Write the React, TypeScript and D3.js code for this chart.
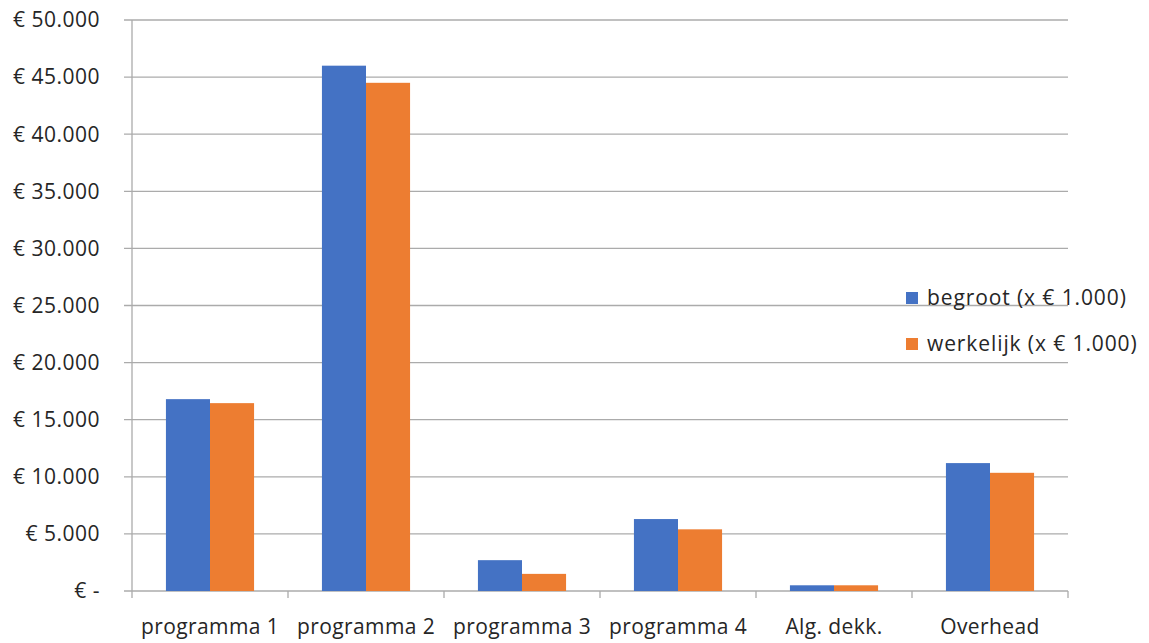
import React, { useEffect, useRef } from 'react';
import * as d3 from 'd3';

const categories = ['programma 1', 'programma 2', 'programma 3', 'programma 4', 'Alg. dekk.', 'Overhead'];
const begroot = [16800, 46000, 2700, 6300, 500, 11200];
const werkelijk = [16450, 44500, 1500, 5400, 500, 10350];
const seriesNames = ['begroot (x € 1.000)', 'werkelijk (x € 1.000)'];
const seriesColors = ['#4472C4', '#ED7D31'];
const yTicks = [0, 5000, 10000, 15000, 20000, 25000, 30000, 35000, 40000, 45000, 50000];

function euro(v: number) {
	if (v === 0) return '€ -';
	return '€ ' + d3.format(',')(v).replace(/,/g, '.');
}

const App = () => {
	const ref = useRef<SVGSVGElement>(null);
	useEffect(() => {
		const svg = d3.select(ref.current);
		svg.selectAll('*').remove();
		const left = 132, right = 1068, top = 20, bottom = 591;
		const font = '"Open Sans", "Noto Sans", sans-serif';

		const x = d3.scaleBand().domain(categories).range([left, right]).paddingInner(0).paddingOuter(0);
		const y = d3.scaleLinear().domain([0, 50000]).range([bottom, top]);
		const inner = d3.scaleBand().domain(['0', '1']).range([0, x.bandwidth()]).paddingOuter(0.77).paddingInner(0);

		// gridlines
		svg.append('g').selectAll('line').data(yTicks).enter().append('line')
			.attr('x1', left - 8).attr('x2', right)
			.attr('y1', d => y(d)).attr('y2', d => y(d))
			.attr('stroke', '#ababab').attr('stroke-width', 1.3);

		svg.append('line').attr('x1', left).attr('x2', left).attr('y1', top).attr('y2', bottom)
			.attr('stroke', '#ababab').attr('stroke-width', 1.3);

		// category ticks
		const bounds = categories.map(c => x(c)!).concat([right]);
		svg.append('g').selectAll('line').data(bounds).enter().append('line')
			.attr('x1', d => d).attr('x2', d => d).attr('y1', bottom).attr('y2', bottom + 7)
			.attr('stroke', '#ababab').attr('stroke-width', 1.3);

		// bars
		const data = [begroot, werkelijk];
		data.forEach((vals, si) => {
			svg.append('g').selectAll('rect').data(vals).enter().append('rect')
				.attr('x', (d, i) => x(categories[i])! + inner(String(si))!)
				.attr('y', d => y(d))
				.attr('width', inner.bandwidth())
				.attr('height', d => bottom - y(d))
				.attr('fill', seriesColors[si]);
		});

		// y labels
		svg.append('g').selectAll('text').data(yTicks).enter().append('text')
			.text(d => euro(d))
			.attr('x', 100).attr('y', d => y(d)).attr('dy', '0.35em')
			.attr('text-anchor', 'end').attr('font-family', font).attr('font-size', 21)
			.attr('letter-spacing', 0.5).attr('fill', '#262626');

		// x labels
		svg.append('g').selectAll('text').data(categories).enter().append('text')
			.text(d => d)
			.attr('x', d => x(d)! + x.bandwidth() / 2).attr('y', 627).attr('dy', '0.35em')
			.attr('text-anchor', 'middle').attr('font-family', font).attr('font-size', 21)
			.attr('letter-spacing', 0.4).attr('fill', '#262626');

		// legend
		const legend = svg.append('g').selectAll('g').data(seriesNames).enter().append('g')
			.attr('transform', (d, i) => 'translate(906,' + (298 + i * 46) + ')');
		legend.append('rect').attr('x', 0).attr('y', -6).attr('width', 12).attr('height', 12)
			.attr('fill', (d, i) => seriesColors[i]);
		legend.append('text').text(d => d).attr('x', 21).attr('y', 0).attr('dy', '0.35em')
			.attr('font-family', font).attr('font-size', 21).attr('letter-spacing', 0.9)
			.attr('fill', '#262626');
	}, []);
	return (
		<svg ref={ref} width={1149} height={643}
			style={{ position: 'absolute', left: 0, top: 0, background: '#fff' }} />
	);
};

export default App;
